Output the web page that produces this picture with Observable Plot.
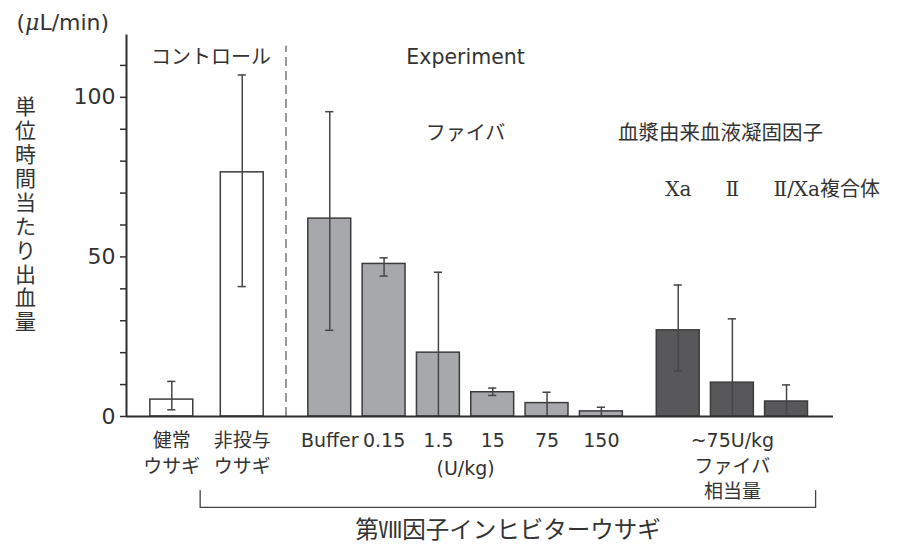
<!DOCTYPE html>
<html>
<head>
<meta charset="utf-8">
<script src="https://cdn.jsdelivr.net/npm/d3@7"></script>
<script src="https://cdn.jsdelivr.net/npm/@observablehq/plot@0.6"></script>
<style>
  html, body { margin: 0; padding: 0; background: #fff; }
</style>
</head>
<body>
<div id="chart"></div>
<script>
// Bleeding rate per unit time (μL/min), mean with error bar bounds
const categories = ["健常ウサギ", "非投与ウサギ", "Buffer", "0.15", "1.5", "15", "75", "150", "Xa", "Ⅱ", "Ⅱ/Xa複合体"];
const groups     = ["control", "control", "fibai", "fibai", "fibai", "fibai", "fibai", "fibai", "factor", "factor", "factor"];
const tickLabels = ["健常\nウサギ", "非投与\nウサギ", "Buffer", "0.15", "1.5", "15", "75", "150", "", "", ""];
const means      = [5.3, 76.5, 62, 47.8, 20, 7.6, 4.2, 1.6, 27, 10.6, 4.7];
const upper      = [11, 107, 95.5, 49.7, 45.2, 8.9, 7.6, 2.9, 41.2, 30.6, 9.9];
const lower      = [2.1, 40.7, 27, 44, 0, 6.6, 0, 0, 14.3, 0, 0];   // 0 = runs to the baseline
const factorLabels = ["Xa", "Ⅱ", "Ⅱ/Xa複合体"];
const yTicks = [0, 10, 20, 30, 40, 50, 60, 70, 80, 90, 100, 110];

// ---- layout ----
const W = 897, H = 547;
const margin = {top: 33, right: 64, bottom: 131, left: 126};
const slot = 54.32;                                   // px per bar slot
const xMax = (W - margin.left - margin.right) / slot;
const groupLayout = {
  control: {start: 0.834, step: 1.297},
  fibai:   {start: 3.742, step: 1},
  factor:  {start: 10.157, step: 0.997}
};
const barW = 0.79, capW = 0.075;
const fills = {control: "#ffffff", fibai: "#a7a8ac", factor: "#58585b"};

const seen = {};
const rows = categories.map((name, i) => {
  const g = groups[i];
  const k = seen[g] = (seen[g] ?? -1) + 1;
  const cx = groupLayout[g].start + k * groupLayout[g].step;
  return {name, group: g, cx, tick: tickLabels[i], mean: means[i], upper: upper[i], lower: lower[i]};
});
const groupCenter = g => d3.mean(rows.filter(d => d.group === g), d => d.cx);
const controlRows = rows.filter(d => d.group === "control");
const fibaiRows = rows.filter(d => d.group === "fibai");
const factorRows = rows.filter(d => d.group === "factor");
const dashX = (controlRows[1].cx + barW / 2 + fibaiRows[0].cx - barW / 2) / 2;
const bracketL = controlRows[1].cx - barW / 2 - 0.38;
const bracketR = factorRows[2].cx + barW / 2 + 0.14;

const ink = "#333";
const sans = "DejaVu Sans, Noto Sans CJK JP, sans-serif";
const jp = "Noto Sans CJK JP, sans-serif";
const serif = "DejaVu Serif, Liberation Serif, Noto Sans CJK JP, serif";

const chart = Plot.plot({
  width: W,
  height: H,
  marginTop: margin.top,
  marginRight: margin.right,
  marginBottom: margin.bottom,
  marginLeft: margin.left,
  style: {background: "#fff", color: ink, fontFamily: sans, overflow: "visible"},
  x: {domain: [0, xMax], axis: null},
  y: {domain: [0, 120], axis: null},
  marks: [
    // separator between control and experiment
    Plot.ruleX([dashX], {y1: 0, y2: 116, stroke: "#555", strokeWidth: 1.2, strokeDasharray: "9,5"}),
    // bars
    Plot.rect(rows, {
      x1: d => d.cx - barW / 2, x2: d => d.cx + barW / 2, y1: 0, y2: "mean",
      fill: d => fills[d.group], stroke: "#3c3c3c", strokeWidth: 1.5
    }),
    // error bars
    Plot.ruleX(rows, {x: "cx", y1: "lower", y2: "upper", stroke: "#464646", strokeWidth: 1.5}),
    Plot.ruleY(rows, {y: "upper", x1: d => d.cx - capW, x2: d => d.cx + capW, stroke: "#464646", strokeWidth: 1.5}),
    Plot.ruleY(rows.filter(d => d.lower > 0), {y: "lower", x1: d => d.cx - capW, x2: d => d.cx + capW, stroke: "#464646", strokeWidth: 1.5}),
    // axes
    Plot.ruleY([0], {x1: 0, x2: xMax, stroke: "#2e2e2e", strokeWidth: 2}),
    Plot.ruleX([0], {y1: 0, y2: 119.5, stroke: "#2e2e2e", strokeWidth: 2}),
    Plot.axisY({
      ticks: yTicks, tickSize: 6, tickPadding: 5, tickFormat: d => (d % 50 === 0 ? d : ""),
      fontSize: 22, stroke: "#2e2e2e", strokeWidth: 1.5, fill: ink, label: null, fontFamily: sans
    }),
    // unit and vertical title
    Plot.text(["(μL/min)"], {frameAnchor: "top-left", dx: -110, dy: -11, textAnchor: "start", lineAnchor: "middle", fontSize: 22, fill: ink, fontFamily: sans, className: "unit-label"}),
    Plot.text([Array.from("単位時間当たり出血量").join("\n")], {
      frameAnchor: "left", dx: -101, dy: -11, lineAnchor: "middle", textAnchor: "middle",
      fontSize: 21, lineHeight: 1.14, fill: ink, fontFamily: jp
    }),
    // category labels under the axis
    Plot.text(rows.filter(d => d.tick), {x: "cx", y: 0, text: "tick", dy: 12, lineAnchor: "top", fontSize: 19, lineHeight: 1.36, fill: ink, fontFamily: sans}),
    Plot.text(["(U/kg)"], {x: groupCenter("fibai"), y: 0, dy: 45, lineAnchor: "top", fontSize: 19, fill: ink, fontFamily: sans}),
    Plot.text(["~75U/kg\nファイバ\n相当量"], {x: groupCenter("factor"), y: 0, dy: 13, lineAnchor: "top", fontSize: 19, lineHeight: 1.33, fill: ink, fontFamily: sans}),
    // group headings
    Plot.text(["コントロール"], {x: groupCenter("control"), y: 112.5, dx: 4, fontSize: 20, fill: ink, fontFamily: jp}),
    Plot.text(["Experiment"], {x: groupCenter("fibai"), y: 112.5, fontSize: 20.5, fill: ink, fontFamily: sans}),
    Plot.text(["ファイバ"], {x: groupCenter("fibai"), y: 88.7, fontSize: 20, fill: ink, fontFamily: jp}),
    Plot.text(["血漿由来血液凝固因子"], {x: groupCenter("factor"), y: 88.7, dx: -12, fontSize: 20.5, fill: ink, fontFamily: jp}),
    Plot.text(factorRows.slice(0, 2), {x: "cx", y: 71.1, text: (d, i) => factorLabels[i], fontSize: 20, fill: ink, fontFamily: serif}),
    Plot.text([factorRows[2]], {x: "cx", y: 71.1, text: () => factorLabels[2], dx: -13, textAnchor: "start", fontSize: 20, fill: ink, fontFamily: serif}),
    // bracket spanning the factor VIII inhibitor rabbits
    Plot.line([[bracketL, -23.2], [bracketL, -28.5], [bracketR, -28.5], [bracketR, -23.2]], {stroke: "#444", strokeWidth: 1.3}),
    Plot.text(["第Ⅷ因子インヒビターウサギ"], {x: (bracketL + bracketR) / 2, y: -35.8, fontSize: 23.5, fill: ink, fontFamily: jp})
  ]
});

// set the micro sign of the unit label in italic
chart.querySelectorAll(".unit-label text").forEach(t => {
  t.textContent = "(";
  const mu = document.createElementNS("http://www.w3.org/2000/svg", "tspan");
  mu.setAttribute("font-style", "italic");
  mu.setAttribute("font-family", "DejaVu Serif, serif");
  mu.textContent = "μ";
  t.appendChild(mu);
  t.appendChild(document.createTextNode("L/min)"));
});

document.getElementById("chart").appendChild(chart);
</script>
</body>
</html>
